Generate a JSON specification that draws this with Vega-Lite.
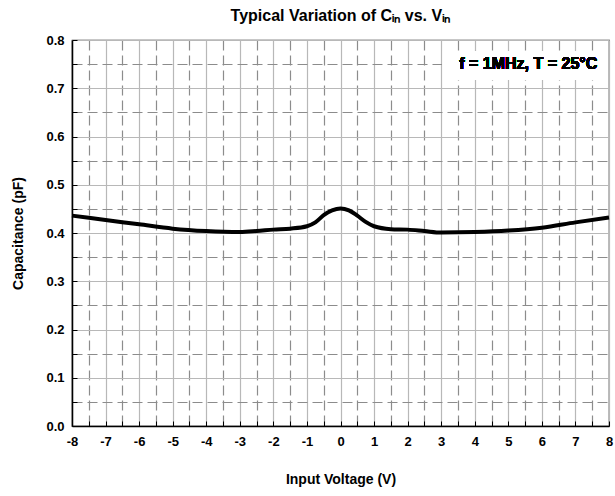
{
  "$schema": "https://vega.github.io/schema/vega-lite/v6.json",
  "autosize": "none",
  "width": 537,
  "height": 386,
  "padding": {"left": 72, "top": 40, "right": 6, "bottom": 70},
  "background": "white",
  "config": {
    "font": "Liberation Sans",
    "view": {"stroke": "#222", "strokeWidth": 1.2},
    "axis": {
      "labelFont": "Liberation Sans",
      "labelFontSize": 13,
      "labelFontWeight": "bold",
      "labelColor": "#000",
      "labelFlush": false,
      "labelOverlap": false,
      "titleFont": "Liberation Sans",
      "titleFontSize": 14,
      "titleFontWeight": "bold",
      "titleColor": "#000",
      "domainColor": "#000",
      "domainWidth": 1.5,
      "ticks": true,
      "tickSize": -5,
      "tickColor": "#000",
      "grid": true,
      "gridWidth": 1.2,
      "gridOpacity": 1
    },
    "axisX": {"labelPadding": 14},
    "axisY": {"labelPadding": 13}
  },
  "title": {
    "text": "Typical Variation of Cᵢₙ vs. Vᵢₙ",
    "font": "Liberation Sans",
    "fontSize": 16,
    "fontWeight": "bold",
    "color": "#000",
    "anchor": "middle",
    "offset": 10
  },
  "data": {
    "values": [
      {"v": -8, "c": 0.436},
      {"v": -7, "c": 0.427},
      {"v": -6, "c": 0.418},
      {"v": -5, "c": 0.409},
      {"v": -4, "c": 0.404},
      {"v": -3, "c": 0.402},
      {"v": -2.5, "c": 0.404},
      {"v": -2, "c": 0.407},
      {"v": -1.5, "c": 0.409},
      {"v": -1, "c": 0.414},
      {"v": -0.75, "c": 0.422},
      {"v": -0.5, "c": 0.437},
      {"v": -0.25, "c": 0.447},
      {"v": 0, "c": 0.451},
      {"v": 0.25, "c": 0.447},
      {"v": 0.5, "c": 0.436},
      {"v": 0.75, "c": 0.423},
      {"v": 1, "c": 0.414},
      {"v": 1.5, "c": 0.408},
      {"v": 2, "c": 0.407},
      {"v": 2.5, "c": 0.404},
      {"v": 3, "c": 0.401},
      {"v": 4, "c": 0.402},
      {"v": 5, "c": 0.405},
      {"v": 6, "c": 0.411},
      {"v": 7, "c": 0.422},
      {"v": 8, "c": 0.432}
    ]
  },
  "layer": [
    {
      "mark": {"type": "line", "color": "#000", "strokeWidth": 4, "interpolate": "monotone"},
      "encoding": {
        "x": {
          "field": "v",
          "type": "quantitative",
          "scale": {"domain": [-8, 8], "nice": false, "zero": false},
          "axis": {
            "title": "Input Voltage (V)",
            "titlePadding": 24,
            "values": [-8,-7.5,-7,-6.5,-6,-5.5,-5,-4.5,-4,-3.5,-3,-2.5,-2,-1.5,-1,-0.5,0,0.5,1,1.5,2,2.5,3,3.5,4,4.5,5,5.5,6,6.5,7,7.5,8],
            "labelExpr": "datum.value % 1 === 0 ? '' + datum.value : ''",
            "gridColor": {"condition": {"test": "datum.value % 1 !== 0", "value": "#8c8c8c"}, "value": "#b8b8b8"},
            "gridDash": {"condition": {"test": "datum.value % 1 !== 0", "value": [10, 5]}, "value": []}
          }
        },
        "y": {
          "field": "c",
          "type": "quantitative",
          "scale": {"domain": [0, 0.8], "nice": false, "zero": false},
          "axis": {
            "title": "Capacitance (pF)",
            "titlePadding": 20,
            "values": [0,0.05,0.1,0.15,0.2,0.25,0.3,0.35,0.4,0.45,0.5,0.55,0.6,0.65,0.7,0.75,0.8],
            "labelExpr": "round(datum.value*20) % 2 === 0 ? format(datum.value, '.1f') : ''",
            "gridColor": {"condition": {"test": "round(datum.value*20) % 2 === 1", "value": "#8c8c8c"}, "value": "#b8b8b8"},
            "gridDash": {"condition": {"test": "round(datum.value*20) % 2 === 1", "value": [10, 5]}, "value": []}
          }
        }
      }
    },
    {
      "mark": {"type": "rect", "fill": "white"},
      "encoding": {
        "x": {
          "datum": 3.05,
          "type": "quantitative",
          "axis": {
            "title": "Input Voltage (V)",
            "titlePadding": 24,
            "values": [-8,-7.5,-7,-6.5,-6,-5.5,-5,-4.5,-4,-3.5,-3,-2.5,-2,-1.5,-1,-0.5,0,0.5,1,1.5,2,2.5,3,3.5,4,4.5,5,5.5,6,6.5,7,7.5,8],
            "labelExpr": "datum.value % 1 === 0 ? '' + datum.value : ''",
            "gridColor": {"condition": {"test": "datum.value % 1 !== 0", "value": "#8c8c8c"}, "value": "#b8b8b8"},
            "gridDash": {"condition": {"test": "datum.value % 1 !== 0", "value": [10, 5]}, "value": []}
          }
        },
        "x2": {"datum": 7.97},
        "y": {
          "datum": 0.717,
          "type": "quantitative",
          "axis": {
            "title": "Capacitance (pF)",
            "titlePadding": 20,
            "values": [0,0.05,0.1,0.15,0.2,0.25,0.3,0.35,0.4,0.45,0.5,0.55,0.6,0.65,0.7,0.75,0.8],
            "labelExpr": "round(datum.value*20) % 2 === 0 ? format(datum.value, '.1f') : ''",
            "gridColor": {"condition": {"test": "round(datum.value*20) % 2 === 1", "value": "#8c8c8c"}, "value": "#b8b8b8"},
            "gridDash": {"condition": {"test": "round(datum.value*20) % 2 === 1", "value": [10, 5]}, "value": []}
          }
        },
        "y2": {"datum": 0.777}
      }
    },
    {
      "mark": {"type": "text", "text": "f = 1MHz, T = 25°C", "font": "Arial", "fontSize": 16, "fontWeight": 700, "align": "right", "baseline": "middle", "fill": "#000"},
      "encoding": {
        "x": {
          "datum": 7.65,
          "type": "quantitative",
          "axis": {
            "title": "Input Voltage (V)",
            "titlePadding": 24,
            "values": [-8,-7.5,-7,-6.5,-6,-5.5,-5,-4.5,-4,-3.5,-3,-2.5,-2,-1.5,-1,-0.5,0,0.5,1,1.5,2,2.5,3,3.5,4,4.5,5,5.5,6,6.5,7,7.5,8],
            "labelExpr": "datum.value % 1 === 0 ? '' + datum.value : ''",
            "gridColor": {"condition": {"test": "datum.value % 1 !== 0", "value": "#8c8c8c"}, "value": "#b8b8b8"},
            "gridDash": {"condition": {"test": "datum.value % 1 !== 0", "value": [10, 5]}, "value": []}
          }
        },
        "y": {
          "datum": 0.75,
          "type": "quantitative",
          "axis": {
            "title": "Capacitance (pF)",
            "titlePadding": 20,
            "values": [0,0.05,0.1,0.15,0.2,0.25,0.3,0.35,0.4,0.45,0.5,0.55,0.6,0.65,0.7,0.75,0.8],
            "labelExpr": "round(datum.value*20) % 2 === 0 ? format(datum.value, '.1f') : ''",
            "gridColor": {"condition": {"test": "round(datum.value*20) % 2 === 1", "value": "#8c8c8c"}, "value": "#b8b8b8"},
            "gridDash": {"condition": {"test": "round(datum.value*20) % 2 === 1", "value": [10, 5]}, "value": []}
          }
        }
      }
    }
  ]
}
